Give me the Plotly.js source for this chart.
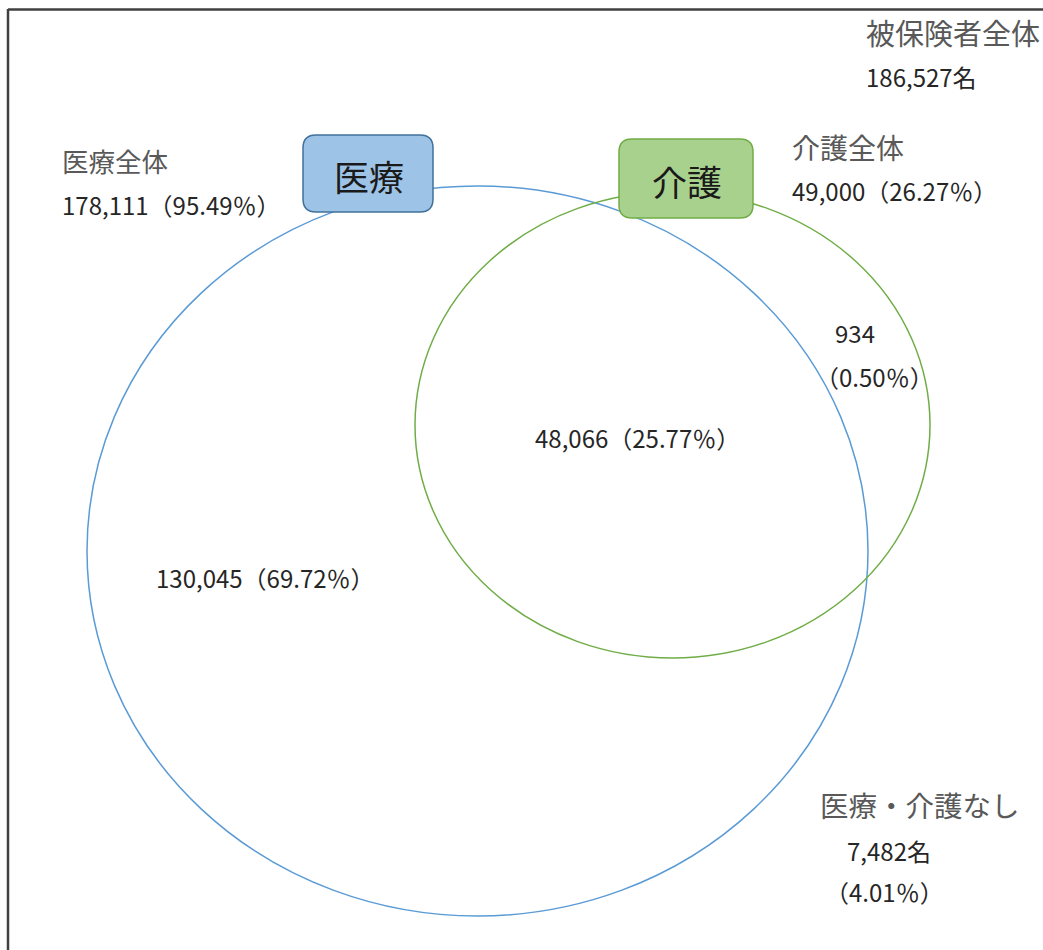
<!DOCTYPE html>
<html>
<head>
<meta charset="utf-8">
<script src="https://cdn.plot.ly/plotly-3.0.1.min.js"></script>
<style>
html,body{margin:0;padding:0;background:#fff;}
#chart{width:1043px;height:950px;}
</style>
</head>
<body>
<div id="chart"></div>
<script>
// ---- data ----
const totalLabel = '被保険者全体';
const totalCount = 186527;
const groupNames = ['医療', '介護'];
const groupTitles = ['医療全体', '介護全体'];
const groupCounts = [178111, 49000];
const groupPct = [95.49, 26.27];
const regionNames = ['医療のみ', '医療・介護', '介護のみ', '医療・介護なし'];
const regionCounts = [130045, 48066, 934, 7482];
const regionPct = [69.72, 25.77, 0.50, 4.01];

// ---- helpers ----
const fmt = n => n.toLocaleString('en-US');
const pct = p => '（' + p.toFixed(2) + '％）';
const FONT = '"Noto Sans CJK JP", "Noto Sans", sans-serif';
const grayText = '#595959';
const darkText = '#262626';
const NUM = 24;

function roundRect(x0, y0, x1, y1, r) {
  return 'M' + (x0 + r) + ',' + y0 +
    ' L' + (x1 - r) + ',' + y0 + ' Q' + x1 + ',' + y0 + ' ' + x1 + ',' + (y0 + r) +
    ' L' + x1 + ',' + (y1 - r) + ' Q' + x1 + ',' + y1 + ' ' + (x1 - r) + ',' + y1 +
    ' L' + (x0 + r) + ',' + y1 + ' Q' + x0 + ',' + y1 + ' ' + x0 + ',' + (y1 - r) +
    ' L' + x0 + ',' + (y0 + r) + ' Q' + x0 + ',' + y0 + ' ' + (x0 + r) + ',' + y0 + ' Z';
}

function ann(text, x, y, size, color, anchor) {
  return {
    text: text, x: x, y: y, xref: 'x', yref: 'y',
    showarrow: false, xanchor: anchor || 'left', yanchor: 'middle',
    font: {family: FONT, size: size, color: color}
  };
}

const shapes = [
  // frame
  {type: 'line', x0: 8, x1: 1043, y0: 9.5, y1: 9.5, line: {color: '#404040', width: 2.5}},
  {type: 'line', x0: 8, x1: 8, y0: 9, y1: 950, line: {color: '#404040', width: 2.5}},
  // 医療 circle
  {type: 'circle', x0: 87, x1: 868, y0: 186, y1: 916, line: {color: '#5b9bd5', width: 1.5}, fillcolor: 'rgba(0,0,0,0)'},
  // 介護 circle
  {type: 'circle', x0: 415, x1: 930, y0: 192, y1: 658, line: {color: '#70ad47', width: 1.5}, fillcolor: 'rgba(0,0,0,0)'},
  // label boxes
  {type: 'path', path: roundRect(303, 135, 433, 212, 13), fillcolor: '#9dc3e6', line: {color: '#41719c', width: 1.5}},
  {type: 'path', path: roundRect(619, 139, 753, 218, 13), fillcolor: '#a9d18e', line: {color: '#70ad47', width: 1.5}}
];

const annotations = [
  ann(totalLabel, 864, 32, 29, grayText),
  ann(fmt(totalCount) + '名', 864, 76, NUM, darkText),
  ann(groupTitles[0], 60, 160, 26.5, grayText),
  ann(fmt(groupCounts[0]) + pct(groupPct[0]), 60, 204, NUM, darkText),
  ann(groupTitles[1], 790, 147, 28, grayText),
  ann(fmt(groupCounts[1]) + pct(groupPct[1]), 790, 190, NUM, darkText),
  ann(fmt(regionCounts[2]), 855, 332, NUM, darkText, 'center'),
  ann(pct(regionPct[2]), 874, 376, NUM, darkText, 'center'),
  ann(fmt(regionCounts[1]) + pct(regionPct[1]), 637, 437, NUM, darkText, 'center'),
  ann(fmt(regionCounts[0]) + pct(regionPct[0]), 265, 577, NUM, darkText, 'center'),
  ann(regionNames[3], 818, 804, 28.5, grayText),
  ann(fmt(regionCounts[3]) + '名', 845, 850, NUM, darkText),
  ann(pct(regionPct[3]), 884, 891, NUM, darkText, 'center'),
  // box labels
  ann(groupNames[0], 369, 175, 35, '#1a1a1a', 'center'),
  ann(groupNames[1], 687, 180, 35, '#1a1a1a', 'center')
];

const layout = {
  width: 1043, height: 950,
  margin: {l: 0, r: 0, t: 0, b: 0},
  paper_bgcolor: '#ffffff', plot_bgcolor: '#ffffff',
  showlegend: false,
  xaxis: {range: [0, 1043], visible: false, fixedrange: true},
  yaxis: {range: [950, 0], visible: false, fixedrange: true},
  shapes: shapes,
  annotations: annotations
};

Plotly.newPlot('chart', [], layout, {displayModeBar: false, staticPlot: true});
</script>
</body>
</html>
